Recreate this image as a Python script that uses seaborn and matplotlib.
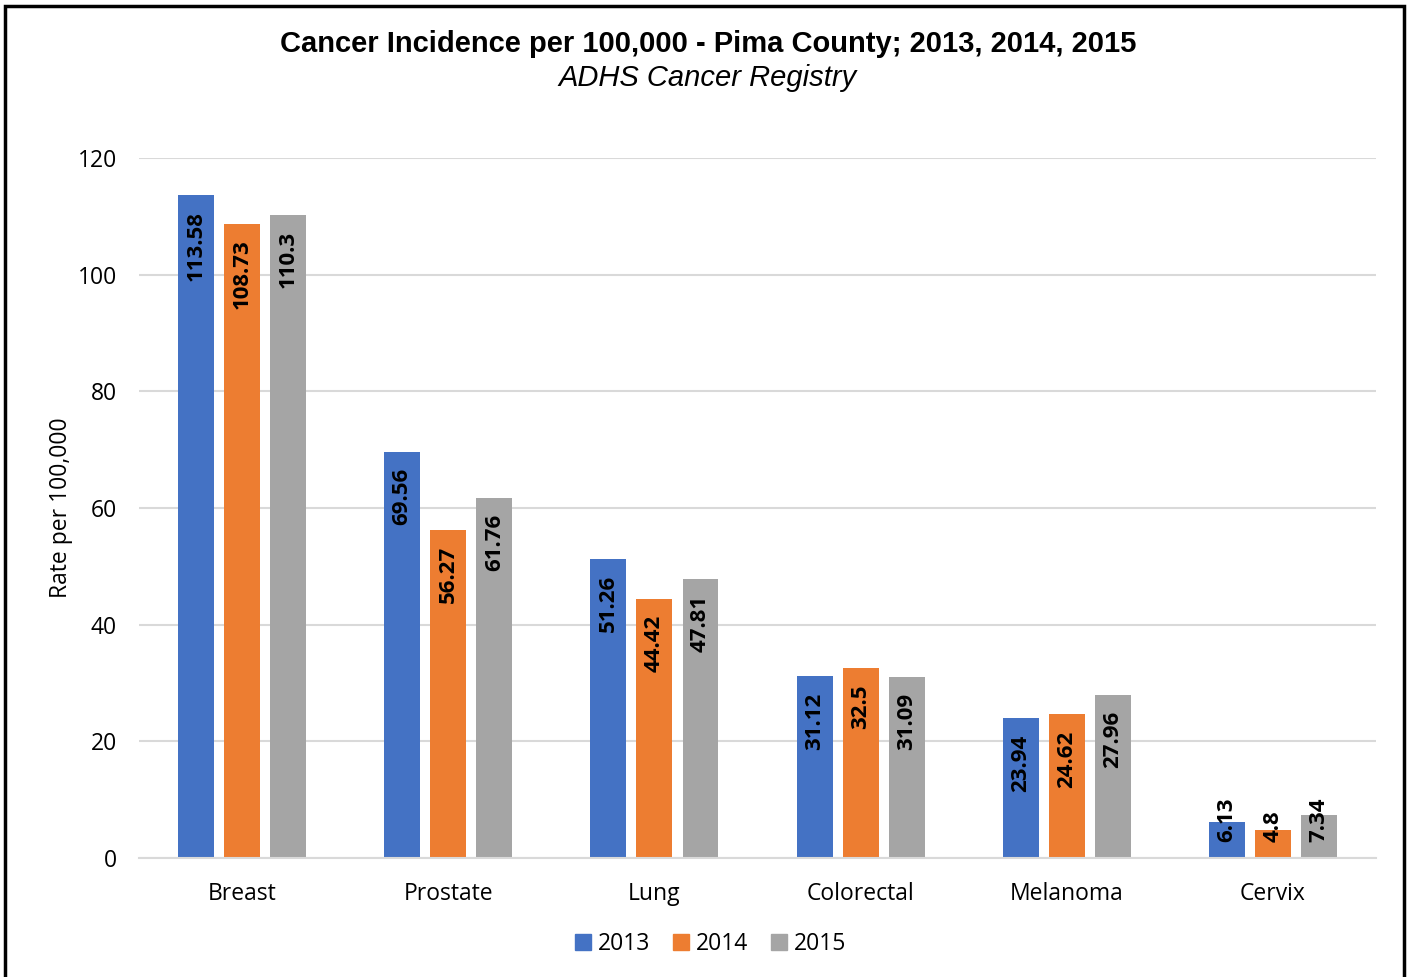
import matplotlib
matplotlib.use("Agg")
import matplotlib.pyplot as plt
import seaborn as sns
import pandas as pd
from matplotlib.patches import Rectangle

# data
cancers = ["Breast", "Prostate", "Lung", "Colorectal", "Melanoma", "Cervix"]
years = ["2013", "2014", "2015"]
rate_2013 = [113.58, 69.56, 51.26, 31.12, 23.94, 6.13]
rate_2014 = [108.73, 56.27, 44.42, 32.5, 24.62, 4.8]
rate_2015 = [110.3, 61.76, 47.81, 31.09, 27.96, 7.34]
colors = ["#4472C4", "#ED7D31", "#A5A5A5"]

rows = []
for yr, vals in zip(years, [rate_2013, rate_2014, rate_2015]):
    for c, v in zip(cancers, vals):
        rows.append({"cancer": c, "year": yr, "rate": v})
df = pd.DataFrame(rows)

sns.set_style("white")
plt.rcParams["font.family"] = ["Open Sans", "DejaVu Sans"]
plt.rcParams["text.color"] = "black"
plt.rcParams["axes.labelcolor"] = "black"

fig = plt.figure(figsize=(14.07, 9.77), dpi=100)
ax = fig.add_axes([0.0988, 0.1218, 0.8792, 0.7165])

sns.barplot(data=df, x="cancer", y="rate", hue="year", order=cancers,
            hue_order=years, palette=colors, width=0.67, gap=0.22,
            linewidth=0, saturation=1, ax=ax, legend=False)

ax.set_ylim(0, 120)
ax.set_xlim(-0.5, 5.5)
ax.set_yticks(range(0, 121, 20))
ax.yaxis.grid(True, color="#d9d9d9", linewidth=1.5)
ax.set_axisbelow(True)
for s in ["top", "right", "left"]:
    ax.spines[s].set_visible(False)
ax.spines["bottom"].set_color("#d9d9d9")
ax.spines["bottom"].set_linewidth(1.5)
ax.tick_params(axis="both", length=0, labelsize=16.5, colors="black")
ax.tick_params(axis="x", pad=17.5)
ax.tick_params(axis="y", pad=16)
ax.set_xlabel("")
ax.set_ylabel("Rate per 100,000", fontsize=16.5, labelpad=3)

# value labels, rotated inside the bar top
for cont in ax.containers:
    for bar in cont:
        v = bar.get_height()
        x = bar.get_x() + bar.get_width() / 2
        if v < 12:
            ax.annotate(f"{v:g}", (x, 2.8), ha="center", va="bottom",
                        rotation=90, fontsize=16, fontweight="bold")
        else:
            ax.annotate(f"{v:g}", (x, v), xytext=(0, -11.5),
                        textcoords="offset points", ha="center", va="top",
                        rotation=90, fontsize=16, fontweight="bold")

# legend
handles = [Rectangle((0, 0), 1, 1, color=c) for c in colors]
fig.legend(handles, years, loc="center", bbox_to_anchor=(0.505, 0.034),
           ncol=3, frameon=False, fontsize=16.5, handlelength=0.7,
           handleheight=0.7, handletextpad=0.3, columnspacing=1.0)

# titles
fig.text(0.503, 0.955, "Cancer Incidence per 100,000 - Pima County; 2013, 2014, 2015",
         ha="center", va="center", fontsize=21, fontweight="bold",
         family="Liberation Sans")
fig.text(0.503, 0.920, "ADHS Cancer Registry", ha="center", va="center",
         fontsize=21, style="italic", family="Liberation Sans")

# outer border
fig.patches.append(Rectangle((5 / 1407, -0.01), 1399 / 1407, 1 - 6 / 977 + 0.01,
                             transform=fig.transFigure, fill=False,
                             edgecolor="black", linewidth=2.5))

fig.savefig("out.png", dpi=100)
